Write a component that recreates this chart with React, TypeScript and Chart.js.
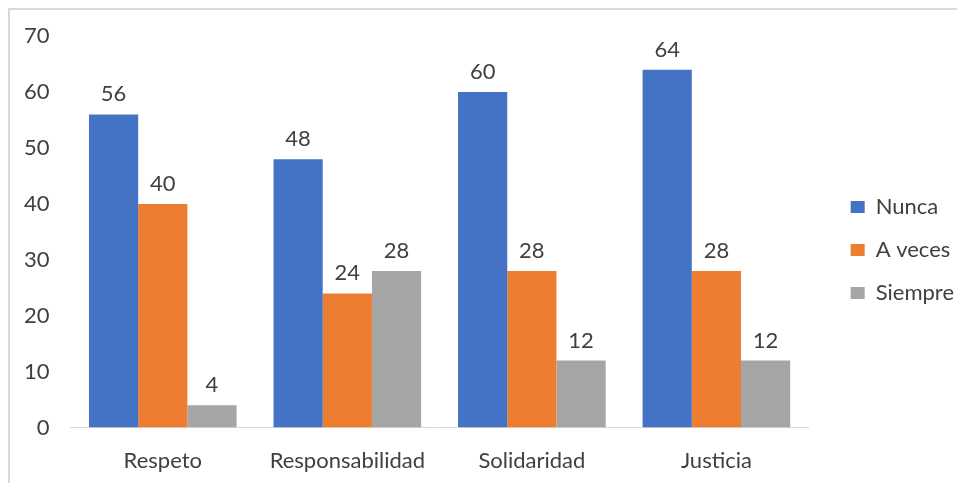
import React, { useEffect, useRef } from "react";
import { Chart, registerables } from "chart.js";

Chart.register(...registerables);

const categories = ["Respeto", "Responsabilidad", "Solidaridad", "Justicia"];
const nunca = [56, 48, 60, 64];
const aVeces = [40, 24, 28, 28];
const siempre = [4, 28, 12, 12];
const seriesNames = ["Nunca", "A veces", "Siempre"];

const FONT = "Lato, 'Open Sans', sans-serif";

const valueLabels = {
  id: "valueLabels",
  afterDatasetsDraw(chart: any) {
    const ctx = chart.ctx;
    ctx.save();
    ctx.font = `22px ${FONT}`;
    ctx.fillStyle = "#404040";
    ctx.textAlign = "center";
    ctx.textBaseline = "alphabetic";
    chart.data.datasets.forEach((ds: any, i: number) => {
      const meta = chart.getDatasetMeta(i);
      meta.data.forEach((el: any, j: number) => {
        ctx.fillText(String(ds.data[j]), el.x, el.y - 13);
      });
    });
    ctx.restore();
  },
};

// Move the legend a little further from the plot area, as in the reference.
const legendShift = {
  id: "legendShift",
  afterLayout(chart: any) {
    const lg = chart.legend;
    if (lg) {
      lg.left += 21;
      lg.right += 21;
      lg.top += 2;
      lg.bottom += 2;
      if (typeof lg.adjustHitBoxes === "function") lg.adjustHitBoxes();
    }
  },
};

export default function App() {
  const ref = useRef<HTMLCanvasElement>(null);
  useEffect(() => {
    if (!ref.current) return;
    const chart = new Chart(ref.current, {
      type: "bar",
      data: {
        labels: categories,
        datasets: [
          { label: seriesNames[0], data: nunca, backgroundColor: "#4472C4" },
          { label: seriesNames[1], data: aVeces, backgroundColor: "#ED7D31" },
          { label: seriesNames[2], data: siempre, backgroundColor: "#A5A5A5" },
        ],
      },
      options: {
        animation: false,
        responsive: false,
        maintainAspectRatio: false,
        datasets: { bar: { barPercentage: 1, categoryPercentage: 0.8 } },
        layout: { padding: { top: 12, right: 22, bottom: 9, left: 1 } },
        plugins: {
          tooltip: { enabled: false },
          legend: {
            position: "right",
            labels: {
              boxWidth: 14,
              boxHeight: 12,
              padding: 21,
              color: "#404040",
              font: { family: FONT, size: 22 },
            },
          },
        },
        scales: {
          x: {
            grid: { display: false, tickLength: 20 },
            border: { display: true, color: "#D9D9D9", width: 1 },
            ticks: { color: "#404040", font: { family: FONT, size: 22 }, padding: 0 },
          },
          y: {
            min: 0,
            max: 70,
            grid: { display: false, tickLength: 8 },
            border: { display: false },
            ticks: { stepSize: 10, color: "#404040", font: { family: FONT, size: 22 }, padding: 13 },
          },
        },
      },
      plugins: [valueLabels, legendShift],
    });
    return () => chart.destroy();
  }, []);
  return (
    <div
      style={{
        position: "relative",
        width: 957,
        height: 475,
        borderTop: "2px solid #D9D9D9",
        borderLeft: "2px solid #D9D9D9",
        boxSizing: "border-box",
        background: "#fff",
      }}
    >
      <canvas ref={ref} width={955} height={473} style={{ display: "block" }} />
    </div>
  );
}
